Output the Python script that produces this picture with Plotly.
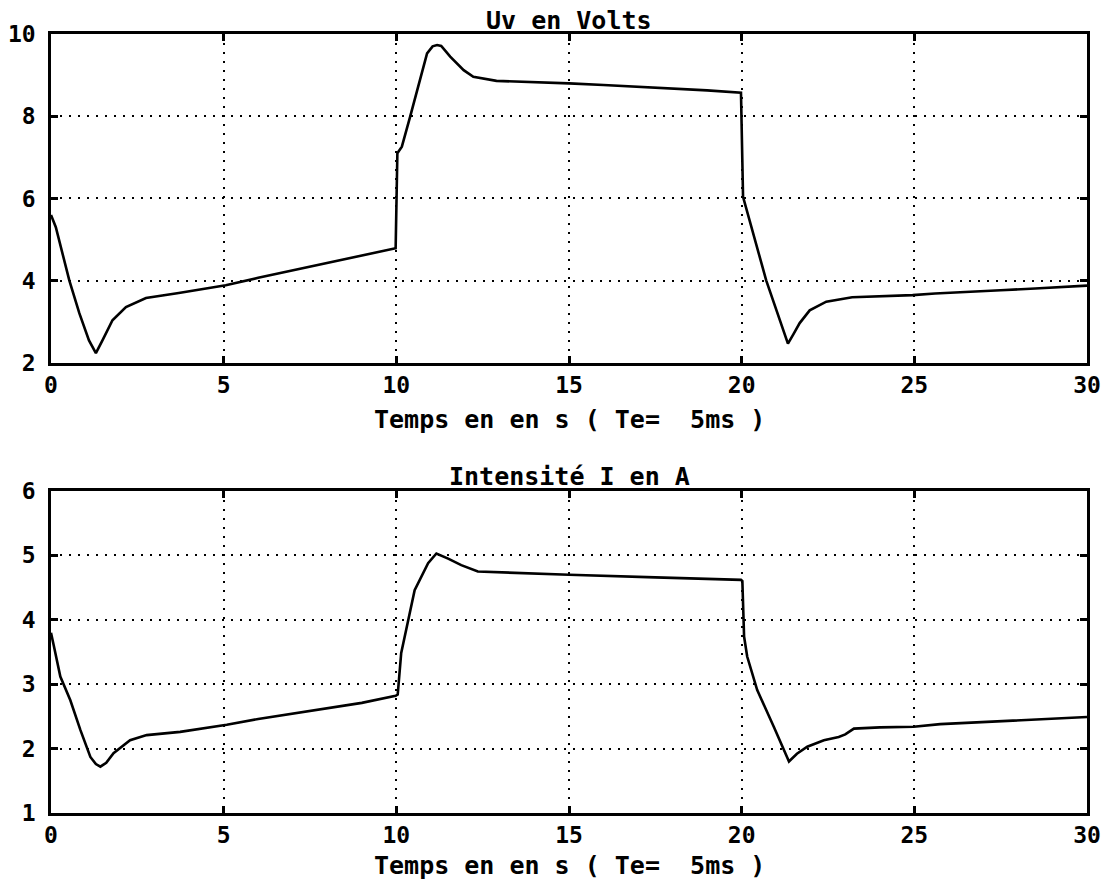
import plotly.graph_objects as go

# Upper plot: Uv (Volts)
t_u = [0.0, 0.14, 0.53, 0.82, 1.1, 1.3, 1.49, 1.78, 2.17, 2.75, 3.7, 5.06, 6.0, 7.0, 8.0, 9.0, 9.98,
       10.03, 10.16, 10.4, 10.69, 10.89, 11.05, 11.18, 11.3, 11.56, 11.95, 12.23, 12.9, 13.87, 15.0,
       16.0, 17.0, 18.0, 19.0, 19.98, 20.04, 20.71, 21.34, 21.5, 21.68, 21.97, 22.45, 23.2,
       24.0, 24.95, 25.6, 26.5, 27.5, 28.5, 29.3, 30.0]
uv = [5.6, 5.3, 4.01, 3.21, 2.55, 2.24, 2.55, 3.04, 3.36, 3.58, 3.7, 3.89, 4.07, 4.25, 4.43, 4.61, 4.79,
      7.1, 7.26, 7.99, 8.88, 9.53, 9.7, 9.73, 9.71, 9.45, 9.12, 8.96, 8.86, 8.84, 8.8,
      8.76, 8.72, 8.68, 8.63, 8.57, 6.04, 4.01, 2.47, 2.7, 2.97, 3.28, 3.49, 3.6,
      3.62, 3.65, 3.69, 3.72, 3.77, 3.81, 3.85, 3.88]

# Lower plot: I (A)
t_i = [0.0, 0.04, 0.08, 0.27, 0.56, 0.85, 1.14, 1.3, 1.43, 1.6, 1.81, 2.29, 2.77, 3.74, 5.09, 6.0, 7.5, 9.0, 9.98,
       10.04, 10.14, 10.34, 10.53, 10.92, 11.16, 11.5, 11.88, 12.36, 13.8, 15.0, 17.5, 19.98,
       20.02, 20.07, 20.16, 20.45, 20.93, 21.37, 21.6, 21.9, 22.38, 22.81, 23.0, 23.25, 24.0, 24.98, 25.75,
       27.0, 28.0, 29.0, 30.0]
ia = [3.8, 3.72, 3.6, 3.12, 2.75, 2.29, 1.87, 1.76, 1.72, 1.78, 1.93, 2.13, 2.21, 2.26, 2.37, 2.46, 2.59, 2.71, 2.82,
      2.84, 3.48, 4.0, 4.46, 4.88, 5.03, 4.95, 4.85, 4.75, 4.72, 4.7, 4.66, 4.62,
      4.6, 3.74, 3.43, 2.91, 2.34, 1.8, 1.92, 2.03, 2.13, 2.18, 2.22, 2.31, 2.33, 2.34, 2.38,
      2.41, 2.44, 2.46, 2.49]

x_ticks = [0, 5, 10, 15, 20, 25, 30]
x_labels = ["0", "5", "10", "15", "20", "25", "30"]
y_ticks_u = [2, 4, 6, 8, 10]
y_ticks_i = [1, 2, 3, 4, 5, 6]

title_u = "Uv en Volts"
title_i = "Intensité I en A"
xlabel = "Temps en en s ( Te=\u00a0\u00a05ms )"

FONT = "DejaVu Sans Mono"
TICK_FONT = dict(family=FONT, size=23, color="black", weight="bold")
TEXT_FONT = dict(family=FONT, size=25, color="black", weight="bold")

fig = go.Figure()
fig.add_trace(go.Scatter(x=t_u, y=uv, mode="lines", line=dict(color="black", width=2.6),
                         xaxis="x", yaxis="y", showlegend=False))
fig.add_trace(go.Scatter(x=t_i, y=ia, mode="lines", line=dict(color="black", width=2.6),
                         xaxis="x2", yaxis="y2", showlegend=False))

ax_common = dict(showline=True, linecolor="black", linewidth=2.5, mirror="ticks",
                 showgrid=True, gridcolor="black", gridwidth=2, griddash="2px,7px",
                 ticks="inside", ticklen=7, tickwidth=2.5, tickcolor="black",
                 zeroline=False, automargin=False, tickfont=TICK_FONT)

fig.update_layout(
    width=1108, height=884,
    paper_bgcolor="white", plot_bgcolor="white",
    margin=dict(l=51, r=21, t=34, b=71),
    font=dict(family=FONT, color="black"),
    xaxis=dict(domain=[0, 1], range=[0, 30], tickvals=x_ticks, ticktext=x_labels, anchor="y", **ax_common),
    yaxis=dict(domain=[0.5777, 1.0], range=[2, 10], tickvals=y_ticks_u, anchor="x",
               ticklabelstandoff=8, **ax_common),
    xaxis2=dict(domain=[0, 1], range=[0, 30], tickvals=x_ticks, ticktext=x_labels, anchor="y2", **ax_common),
    yaxis2=dict(domain=[0, 0.4133], range=[1, 6], tickvals=y_ticks_i, anchor="x2",
                ticklabelstandoff=8, **ax_common),
    annotations=[
        dict(text=title_u, x=0.5, y=1.0, xref="paper", yref="paper", xanchor="center", yanchor="bottom",
             showarrow=False, yshift=-3, font=TEXT_FONT),
        dict(text=title_i, x=0.5, y=0.4133, xref="paper", yref="paper", xanchor="center", yanchor="bottom",
             showarrow=False, yshift=-2, font=TEXT_FONT),
        dict(text=xlabel, x=0.5, y=0.5045, xref="paper", yref="paper", xanchor="center", yanchor="middle",
             showarrow=False, font=TEXT_FONT),
        dict(text=xlabel, x=0.5, y=-0.068, xref="paper", yref="paper", xanchor="center", yanchor="middle",
             showarrow=False, font=TEXT_FONT),
    ],
)

fig.write_html("out.html", config={"displayModeBar": False},
               post_script="document.body.style.margin='0';")
